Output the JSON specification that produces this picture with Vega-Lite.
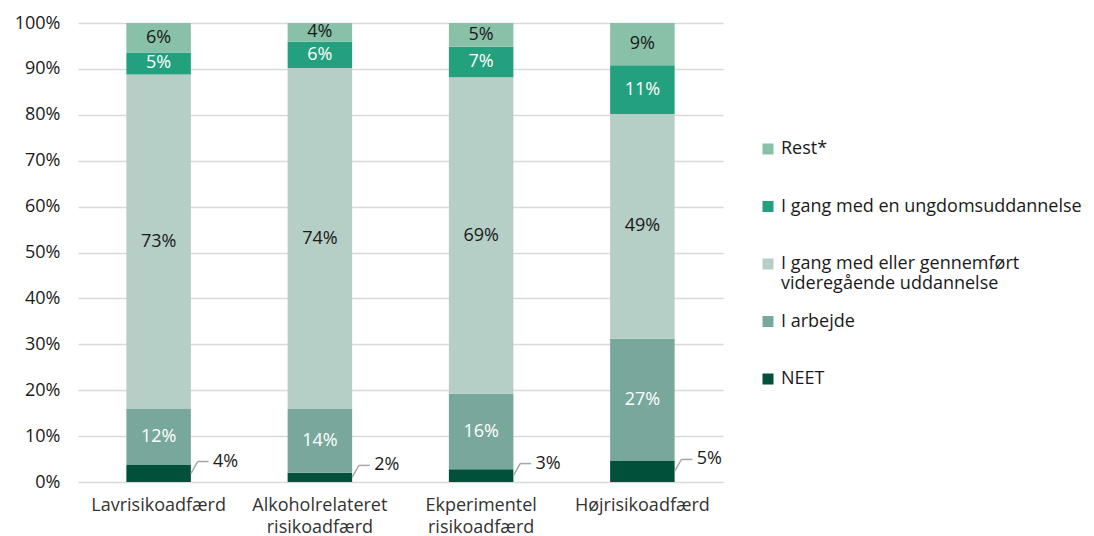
{
  "$schema": "https://vega.github.io/schema/vega-lite/v6.json",
  "autosize": {"type": "none"},
  "padding": {"left": 78, "top": 23, "right": 371, "bottom": 54},
  "width": 645,
  "height": 459,
  "background": "white",
  "config": {
    "view": {"stroke": null},
    "font": "Open Sans",
    "text": {"font": "Open Sans"}
  },
  "data": {
    "values": [
      {"kategori": "Lavrisikoadfærd", "gruppe": "NEET", "nr": 1, "andel": 0.037},
      {"kategori": "Lavrisikoadfærd", "gruppe": "I arbejde", "nr": 2, "andel": 0.122},
      {"kategori": "Lavrisikoadfærd", "gruppe": "I gang med eller gennemført videregående uddannelse", "nr": 3, "andel": 0.729},
      {"kategori": "Lavrisikoadfærd", "gruppe": "I gang med en ungdomsuddannelse", "nr": 4, "andel": 0.048},
      {"kategori": "Lavrisikoadfærd", "gruppe": "Rest*", "nr": 5, "andel": 0.064},
      {"kategori": "Alkoholrelateret risikoadfærd", "gruppe": "NEET", "nr": 1, "andel": 0.020},
      {"kategori": "Alkoholrelateret risikoadfærd", "gruppe": "I arbejde", "nr": 2, "andel": 0.139},
      {"kategori": "Alkoholrelateret risikoadfærd", "gruppe": "I gang med eller gennemført videregående uddannelse", "nr": 3, "andel": 0.743},
      {"kategori": "Alkoholrelateret risikoadfærd", "gruppe": "I gang med en ungdomsuddannelse", "nr": 4, "andel": 0.057},
      {"kategori": "Alkoholrelateret risikoadfærd", "gruppe": "Rest*", "nr": 5, "andel": 0.041},
      {"kategori": "Ekperimentel risikoadfærd", "gruppe": "NEET", "nr": 1, "andel": 0.028},
      {"kategori": "Ekperimentel risikoadfærd", "gruppe": "I arbejde", "nr": 2, "andel": 0.164},
      {"kategori": "Ekperimentel risikoadfærd", "gruppe": "I gang med eller gennemført videregående uddannelse", "nr": 3, "andel": 0.690},
      {"kategori": "Ekperimentel risikoadfærd", "gruppe": "I gang med en ungdomsuddannelse", "nr": 4, "andel": 0.066},
      {"kategori": "Ekperimentel risikoadfærd", "gruppe": "Rest*", "nr": 5, "andel": 0.052},
      {"kategori": "Højrisikoadfærd", "gruppe": "NEET", "nr": 1, "andel": 0.046},
      {"kategori": "Højrisikoadfærd", "gruppe": "I arbejde", "nr": 2, "andel": 0.266},
      {"kategori": "Højrisikoadfærd", "gruppe": "I gang med eller gennemført videregående uddannelse", "nr": 3, "andel": 0.490},
      {"kategori": "Højrisikoadfærd", "gruppe": "I gang med en ungdomsuddannelse", "nr": 4, "andel": 0.106},
      {"kategori": "Højrisikoadfærd", "gruppe": "Rest*", "nr": 5, "andel": 0.092}
    ]
  },
  "transform": [
    {"stack": "andel", "groupby": ["kategori"], "sort": [{"field": "nr", "order": "ascending"}], "as": ["y0", "y1"]},
    {"calculate": "(datum.y0 + datum.y1) / 2", "as": "ymid"}
  ],
  "encoding": {
    "x": {
      "field": "kategori",
      "type": "nominal",
      "sort": null,
      "scale": {"paddingInner": 0.6, "paddingOuter": 0.3},
      "axis": {
        "title": null,
        "domain": false,
        "ticks": false,
        "grid": false,
        "labelAngle": 0,
        "labelFontSize": 18,
        "labelColor": "#333333",
        "labelPadding": 14,
        "labelLineHeight": 22,
        "labelExpr": "split(datum.label, ' ')"
      }
    }
  },
  "layer": [
    {
      "mark": {"type": "bar"},
      "encoding": {
        "y": {
          "field": "y0",
          "type": "quantitative",
          "scale": {"domain": [0, 1], "nice": false},
          "axis": {
            "title": null,
            "format": ".0%",
            "values": [0, 0.1, 0.2, 0.3, 0.4, 0.5, 0.6, 0.7, 0.8, 0.9, 1],
            "domain": false,
            "ticks": false,
            "grid": true,
            "gridColor": "#d9d9d9",
            "gridWidth": 1.5,
            "labelFontSize": 18,
            "labelColor": "#1a1a1a",
            "labelPadding": 18
          }
        },
        "y2": {"field": "y1"},
        "color": {
          "field": "gruppe",
          "type": "nominal",
          "scale": {
            "domain": ["Rest*", "I gang med en ungdomsuddannelse", "I gang med eller gennemført videregående uddannelse", "I arbejde", "NEET"],
            "range": ["#88C0A8", "#23A07D", "#B5CEC6", "#78A89C", "#00503A"]
          },
          "legend": {
            "title": null,
            "orient": "none",
            "legendX": 681,
            "legendY": 117,
            "padding": 0,
            "symbolType": "square",
            "symbolSize": 121,
            "symbolStrokeWidth": 0,
            "labelFontSize": 18,
            "labelColor": "#1a1a1a",
            "labelOffset": 4,
            "labelLimit": 400,
            "labelLineHeight": 22,
            "rowPadding": 19.5,
            "labelExpr": "datum.label == 'I gang med eller gennemført videregående uddannelse' ? ['I gang med eller gennemført', 'videregående uddannelse'] : [datum.label, '']"
          }
        }
      }
    },
    {
      "transform": [{"filter": "datum.gruppe != 'NEET'"}],
      "mark": {"type": "text", "fontSize": 18, "baseline": "middle"},
      "encoding": {
        "y": {"field": "ymid", "type": "quantitative"},
        "text": {"field": "andel", "type": "quantitative", "format": ".0%"},
        "color": {
          "condition": {"test": "datum.gruppe == 'I arbejde' || datum.gruppe == 'I gang med en ungdomsuddannelse'", "value": "#ffffff"},
          "value": "#1a1a1a"
        }
      }
    },
    {
      "transform": [{"filter": "datum.gruppe == 'NEET'"}],
      "mark": {"type": "rule", "color": "#a6a6a6", "strokeWidth": 1.5, "x2Offset": 39, "y2Offset": -12},
      "encoding": {
        "x": {"field": "kategori", "type": "nominal", "sort": null, "bandPosition": 1},
        "x2": {"field": "kategori"},
        "y": {"field": "ymid", "type": "quantitative"},
        "y2": {"field": "ymid"}
      }
    },
    {
      "transform": [{"filter": "datum.gruppe == 'NEET'"}],
      "mark": {"type": "rule", "color": "#a6a6a6", "strokeWidth": 1.5, "xOffset": 39, "x2Offset": 50, "yOffset": -12, "y2Offset": -12},
      "encoding": {
        "x": {"field": "kategori", "type": "nominal", "sort": null},
        "x2": {"field": "kategori"},
        "y": {"field": "ymid", "type": "quantitative"},
        "y2": {"field": "ymid"}
      }
    },
    {
      "transform": [{"filter": "datum.gruppe == 'NEET'"}],
      "mark": {"type": "text", "fontSize": 18, "align": "left", "baseline": "middle", "dx": 22, "dy": -12, "color": "#1a1a1a"},
      "encoding": {
        "x": {"field": "kategori", "type": "nominal", "sort": null, "bandPosition": 1},
        "y": {"field": "ymid", "type": "quantitative"},
        "text": {"field": "andel", "type": "quantitative", "format": ".0%"}
      }
    }
  ]
}
